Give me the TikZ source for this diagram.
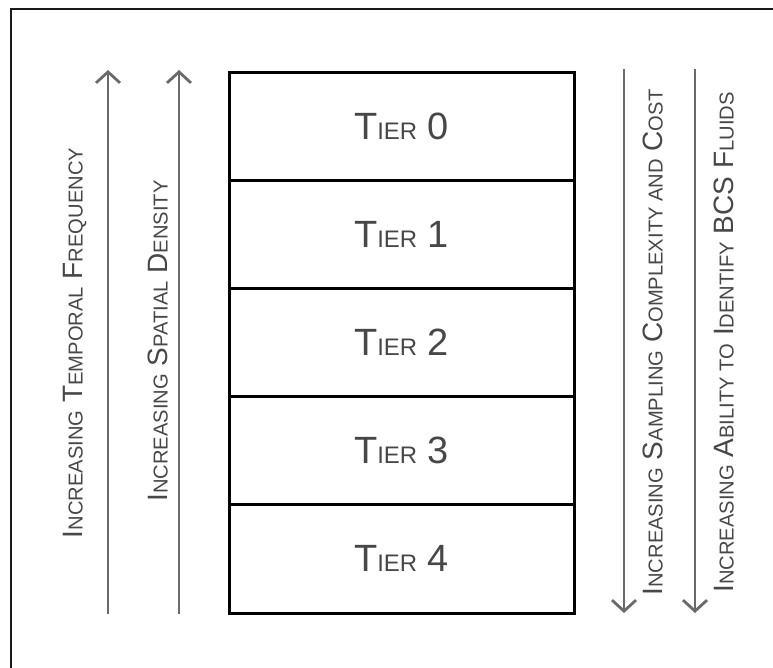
\documentclass[tikz,border=0pt]{standalone}
\usepackage{fontspec}
\setmainfont{Liberation Sans}
\newfontfamily\tiersmall[Scale=0.63]{Liberation Sans}
\newfontfamily\sidesmall[Scale=0.72]{Liberation Sans}
\usetikzlibrary{positioning,arrows.meta}

\definecolor{framegray}{HTML}{1A1A1A}
\definecolor{trendgray}{HTML}{6A6A6A}
\definecolor{textgray}{HTML}{474747}

% fake small caps: capitals full size, the rest set smaller in upper case
\newcommand\tsc[1]{{\tiersmall\MakeUppercase{#1}}}
\newcommand\ssc[1]{{\sidesmall\MakeUppercase{#1}}}
\newcommand\tiername[1]{T\tsc{ier} #1}

\tikzset{
  tierbox/.style={draw=black, line width=3pt, minimum width=345pt,
    minimum height=108.2pt, inner sep=0pt, outer sep=0pt,
    font=\fontsize{38}{40}\selectfont, text=textgray},
  trend/.style={draw=trendgray, line width=2.8pt,
    -{Straight Barb[length=11pt,width=24pt]}},
  trendlabel/.style={rotate=90, inner sep=0pt,
    font=\fontsize{28}{30}\selectfont, text=textgray},
}

\begin{document}
\begin{tikzpicture}[x=1pt,y=-1pt]
\clip (0,0) rectangle (773,667);
\draw[framegray,line width=2.4pt] (11,690) -- (11,9) -- (800,9);

% the tier stack
\node[tierbox] (tier0) at (401.5,126.1) {\tiername{0}};
\node[tierbox,below=0pt of tier0] (tier1) {\tiername{1}};
\node[tierbox,below=0pt of tier1] (tier2) {\tiername{2}};
\node[tierbox,below=0pt of tier2] (tier3) {\tiername{3}};
\node[tierbox,below=0pt of tier3] (tier4) {\tiername{4}};

% trends going up on the left
\coordinate (tempfoot) at (108,614);
\coordinate (temptip) at (108,70);
\coordinate (spatfoot) at (179,614);
\coordinate (spattip) at (179,70);
\draw[trend] (tempfoot) -- (temptip);
\draw[trend] (spatfoot) -- (spattip);
\node[trendlabel] (templabel) at (75,343)
  {I\ssc{ncreasing} T\ssc{emporal} F\ssc{requency}};
\node[trendlabel] (spatlabel) at (158,341)
  {I\ssc{ncreasing} S\ssc{patial} D\ssc{ensity}};

% trends going down on the right
\coordinate (costtop) at (624,69);
\coordinate (costtip) at (624,613);
\coordinate (fluidtop) at (695,69);
\coordinate (fluidtip) at (695,613);
\draw[trend] (costtop) -- (costtip);
\draw[trend] (fluidtop) -- (fluidtip);
\node[trendlabel] (costlabel) at (653,342.5)
  {I\ssc{ncreasing} S\ssc{ampling} C\ssc{omplexity and} C\ssc{ost}};
\node[trendlabel] (fluidlabel) at (724,342.5)
  {I\ssc{ncreasing} A\ssc{bility to} I\ssc{dentify} BCS F\ssc{luids}};
\end{tikzpicture}
\end{document}
